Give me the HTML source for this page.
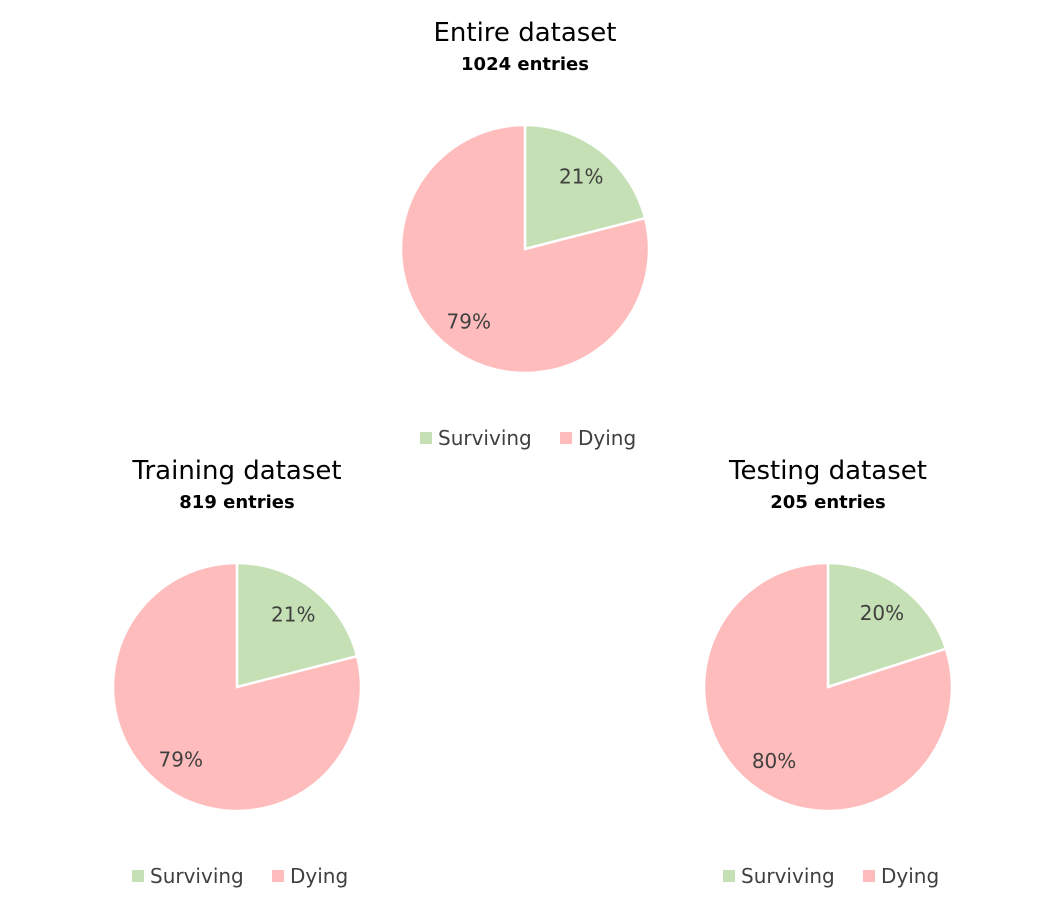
<!DOCTYPE html>
<html><head><meta charset="utf-8"><style>
body{margin:0;background:#fff;width:1064px;height:910px;overflow:hidden}
svg text{font-family:"DejaVu Sans","Liberation Sans",sans-serif;fill:#000}
</style></head><body>
<svg id="chart" width="1064" height="910" xmlns="http://www.w3.org/2000/svg"></svg>
<script>
const titles = ["Entire dataset", "Training dataset", "Testing dataset"];
const subtitles = ["1024 entries", "819 entries", "205 entries"];
const categories = ["Surviving", "Dying"];
const survivingPct = [21, 21, 20];
const dyingPct = [79, 79, 80];
const colors = ["#C5E0B4", "#FFBCBC"];
const layout = [{cx:525,cy:249,ty:33},{cx:237,cy:687,ty:471},{cx:828,cy:687,ty:471}];
const R = 124;
const svg = document.getElementById('chart');
const NS = "http://www.w3.org/2000/svg";
function mk(tag, attrs, parent){const e=document.createElementNS(NS,tag);for(const k in attrs)e.setAttribute(k,attrs[k]);(parent||svg).appendChild(e);return e;}
function pt(cx,cy,r,frac){const a=frac*2*Math.PI;return [cx+r*Math.sin(a),cy-r*Math.cos(a)];}
layout.forEach((L,i)=>{
  const g = mk('g',{});
  
  
  const t = mk('text',{x:L.cx,y:L.ty+8,'text-anchor':'middle','font-size':'26'},g);
  t.textContent = titles[i];
  
  
  const s = mk('text',{x:L.cx,y:L.ty+37,'text-anchor':'middle','font-size':'18','font-weight':'bold'},g);
  s.textContent = subtitles[i];
  
  
  const vals = [survivingPct[i], dyingPct[i]];
  const tot = vals[0]+vals[1];
  let acc = 0;
  vals.forEach((v,j)=>{
    const f0 = acc/tot, f1 = (acc+v)/tot;
    const p0 = pt(L.cx,L.cy,R,f0), p1 = pt(L.cx,L.cy,R,f1);
    const large = (f1-f0)>0.5?1:0;
    const p = mk('path',{d:`M${L.cx},${L.cy}L${p0[0]},${p0[1]}A${R},${R} 0 ${large} 1 ${p1[0]},${p1[1]}Z`,fill:colors[j],stroke:'#fff','stroke-width':'2.5'},g);
    
    
    const lp = pt(L.cx,L.cy,R*0.74,(f0+f1)/2);
    const lt = mk('text',{x:lp[0],y:lp[1]+7,'text-anchor':'middle','font-size':'20',style:'fill:#404040'},g);
    lt.textContent = v+'%';
    
    
    acc += v;
  });
  const ly = L.cy+189;
  const lx = L.cx-105;
  const offs = [0,140];
  categories.forEach((c,j)=>{
    const r = mk('rect',{x:lx+offs[j],y:ly-6,width:12,height:12,fill:colors[j]},g);
    
    
    const lt = mk('text',{x:lx+offs[j]+18,y:ly+7,'font-size':'20',style:'fill:#404040'},g);
    lt.textContent = c;
    
    
  });
});
</script>
</body></html>
